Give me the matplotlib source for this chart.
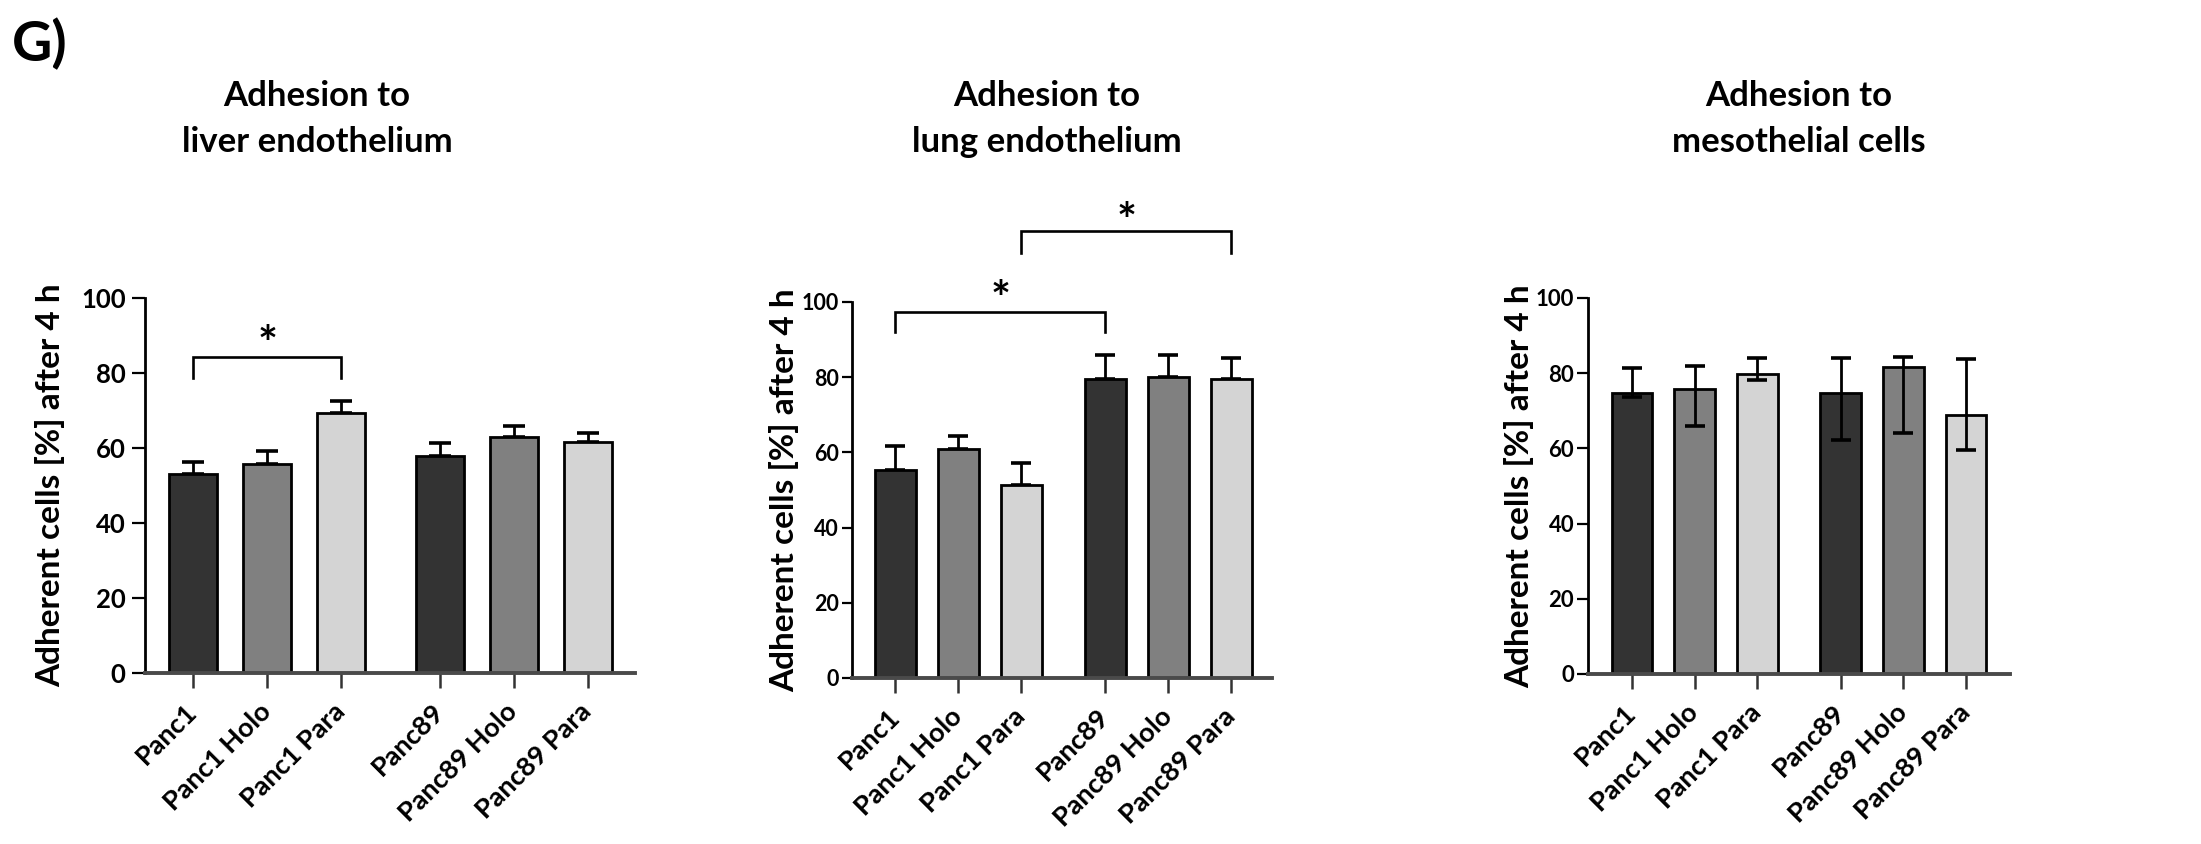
import matplotlib
matplotlib.use("Agg")
import matplotlib.pyplot as plt
import matplotlib.transforms as mtrans
import numpy as np

plt.rcParams['font.family'] = ['Lato', 'DejaVu Sans']
plt.rcParams['font.weight'] = 'bold'

# ---------------- data ----------------
categories = ["Panc1", "Panc1 Holo", "Panc1 Para", "Panc89", "Panc89 Holo", "Panc89 Para"]
positions = [0, 1, 2, 3.33, 4.33, 5.33]
bar_colors = ["#333333", "#808080", "#d4d4d4", "#333333", "#808080", "#d4d4d4"]

liver_mean = [53.0, 55.6, 69.4, 57.9, 63.0, 61.5]
liver_err_up = [3.2, 3.6, 3.2, 3.5, 2.9, 2.6]

lung_mean = [55.2, 60.9, 51.4, 79.4, 80.1, 79.4]
lung_err_up = [6.5, 3.4, 5.8, 6.5, 5.8, 5.8]

meso_mean = [74.8, 75.9, 79.9, 74.8, 81.7, 69.0]
meso_err_up = [6.7, 5.9, 4.2, 9.3, 2.6, 14.7]
meso_err_low = [1.1, 10.0, 1.8, 12.6, 17.7, 9.3]

titles = ["Adhesion to\nliver endothelium", "Adhesion to\nlung endothelium",
          "Adhesion to\nmesothelial cells"]
ylabel = "Adherent cells [%] after 4 h"
yticks = [0, 20, 40, 60, 80, 100]

# significance brackets: (panel, i, j, bar_y, leg_y, star_y)
brackets = [(0, 0, 2, 84.2, 78.6, 91.0),
            (1, 0, 3, 97.3, 92.0, 104.0),
            (1, 2, 5, 118.8, 113.0, 124.8)]

# ---------------- layout ----------------
W, H = 2201, 844
fig = plt.figure(figsize=(W / 100, H / 100), dpi=100)

def px_axes(x0, x1, ytop, ybot):
    return [x0 / W, (H - ybot) / H, (x1 - x0) / W, (ybot - ytop) / H]

axes_px = [(145, 635, 298, 673), (852, 1272, 302, 678), (1588, 2010, 298, 674)]
xlims = [(-0.65, 5.97), (-0.69, 5.98), (-0.70, 6.03)]
ylab_x = [50, 784, 1519]
title_x = [317, 1047, 1799]
capsizes = [8, 7, 7]
ytick_fs = [18.5, 15.5, 16.0]
ytick_len = [9.5, 7.5, 8.0]
ytick_pad = [4.5, 2.0, 2.0]

means = [liver_mean, lung_mean, meso_mean]
errs = [[np.zeros(6), liver_err_up], [np.zeros(6), lung_err_up], [meso_err_low, meso_err_up]]

axs = []
for k in range(3):
    x0, x1, yt, yb = axes_px[k]
    ax = fig.add_axes(px_axes(x0, x1, yt, yb))
    axs.append(ax)
    ax.bar(positions, means[k], width=0.65, color=bar_colors, edgecolor="black",
           linewidth=2.0, zorder=2)
    ez = 3 if k == 2 else 1
    ax.errorbar(positions, means[k], yerr=errs[k], fmt="none", ecolor="black",
                elinewidth=2.0, capsize=capsizes[k], capthick=2.6, zorder=ez)
    ax.set_xlim(*xlims[k])
    ax.set_ylim(0, 100)
    ax.set_yticks(yticks)
    ax.set_yticklabels([str(t) for t in yticks], fontsize=ytick_fs[k], fontweight="bold")
    ax.set_xticks(positions)
    ax.set_xticklabels(categories, fontsize=19.5, fontweight="bold", rotation=45,
                       ha="right", va="center", rotation_mode="anchor")
    for s in ["top", "right"]:
        ax.spines[s].set_visible(False)
    ax.spines["left"].set_linewidth(2.0)
    ax.spines["left"].set_color("black")
    ax.spines["bottom"].set_linewidth(2.8)
    ax.spines["bottom"].set_color("#4a4a4a")
    ax.spines["bottom"].set_zorder(4)
    ax.tick_params(axis="y", length=ytick_len[k], width=1.6, pad=ytick_pad[k], colors="black")
    ax.tick_params(axis="x", length=11, width=1.8, pad=14, color="#333333", labelcolor="black")
    ax.set_ylabel(ylabel, fontsize=24, fontweight="bold", va="center")
    ax.yaxis.set_label_coords((ylab_x[k] - x0) / (x1 - x0), 0.5)
    fig.text(title_x[k] / W, 1 - 80 / H, titles[k], ha="center", va="top",
             fontsize=25, fontweight="bold", linespacing=1.52)

star_fs = 34
for (k, i, j, by, ly, sy) in brackets:
    ax = axs[k]
    xi, xj = positions[i], positions[j]
    ax.plot([xi, xi, xj, xj], [ly, by, by, ly], color="black", lw=1.9,
            clip_on=False, zorder=5, solid_joinstyle="miter")
    tr = mtrans.offset_copy(ax.transData, fig=fig, x=0, y=-0.6 * star_fs, units="points")
    ax.text((xi + xj) / 2, sy, "*", ha="center", va="baseline", fontsize=star_fs,
            fontweight="bold", clip_on=False, transform=tr)

fig.text(12 / W, 1 - 18 / H, "G)", ha="left", va="top", fontsize=40, fontweight="bold")

fig.savefig("out.png", dpi=100)
